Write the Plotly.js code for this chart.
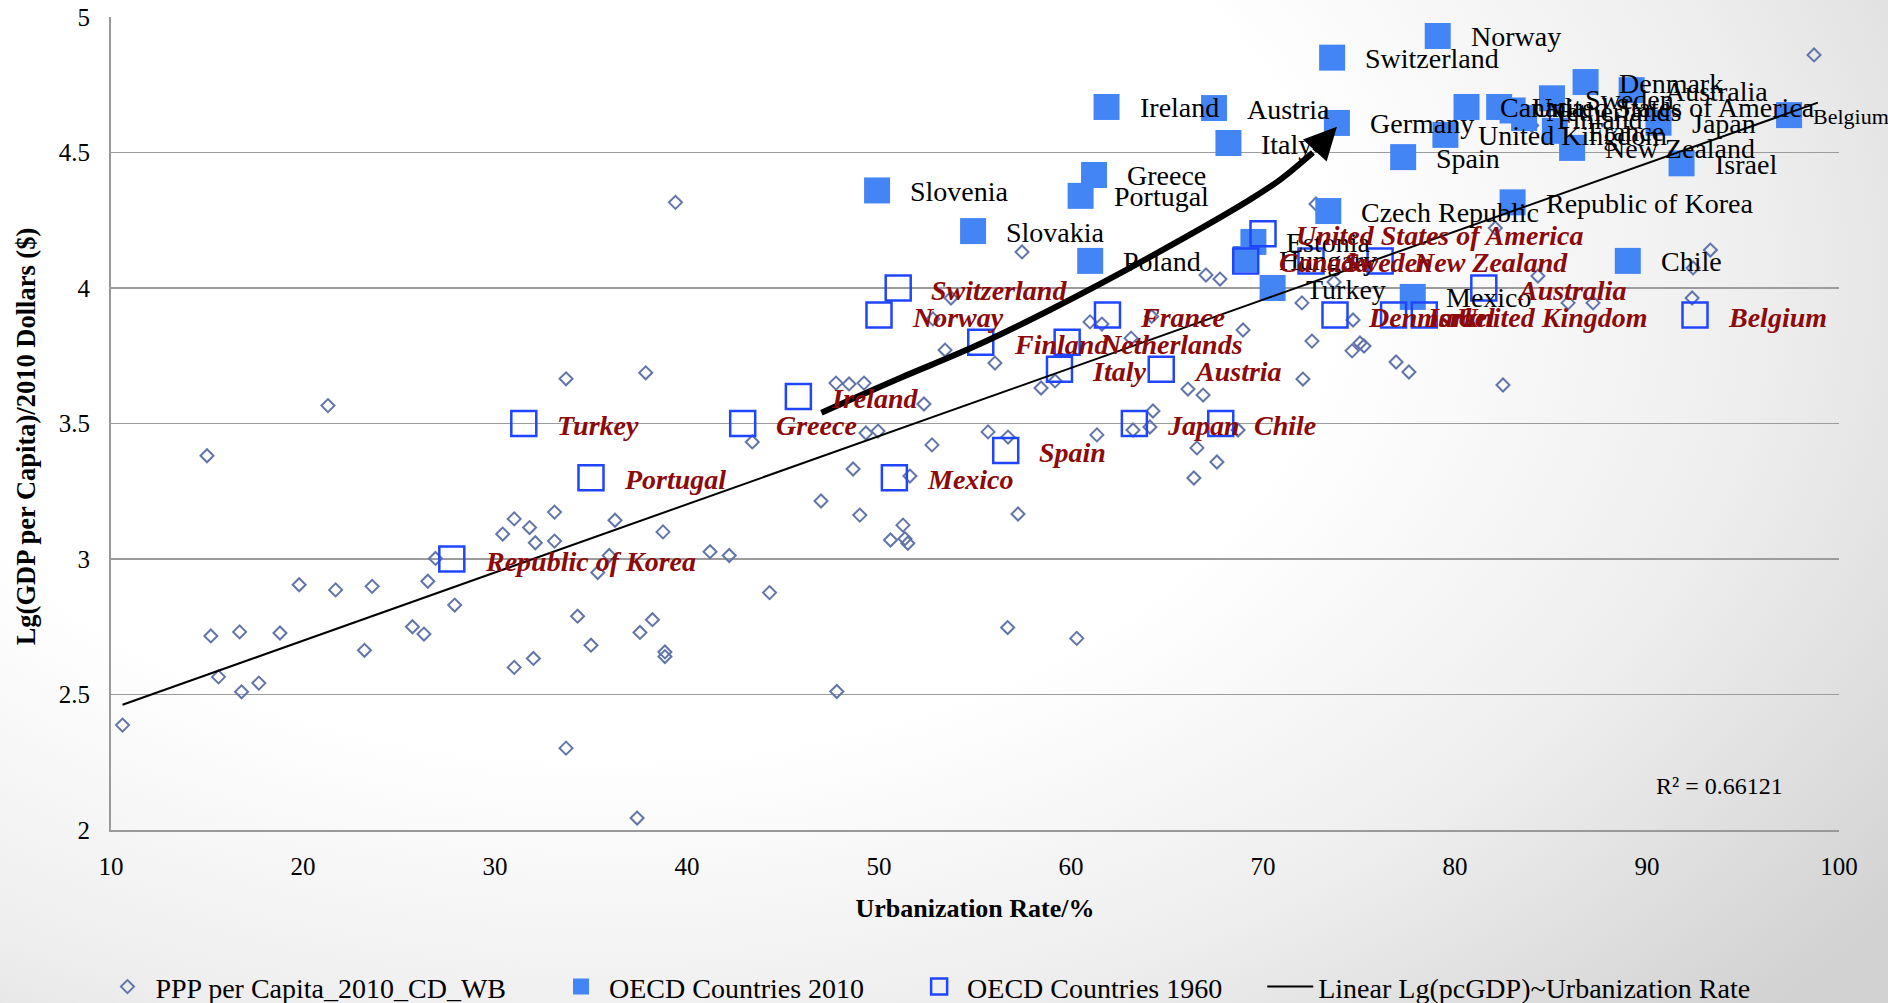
<!DOCTYPE html>
<html>
<head>
<meta charset="utf-8">
<script src="https://cdn.plot.ly/plotly-3.0.1.min.js"></script>
<style>
html,body{margin:0;padding:0;width:1888px;height:1003px;overflow:hidden;
background:radial-gradient(ellipse 85% 105% at 32% 28%, #ffffff 45%, #eeeeee 72%, #d2d2d2 100%);}
#chart{width:1888px;height:1003px;}
</style>
</head>
<body>
<div id="chart"></div>
<script>
// World Bank sample: urbanization rate (%) and lg(GDP per capita, PPP 2010 $)
const wbUrban = [10.6,15.0,15.2,15.6,16.7,16.8,17.7,18.8,19.8,21.3,21.7,23.2,23.6,25.7,26.3,26.5,26.9,27.9,30.4,31.0,31.0,31.8,32.0,32.1,33.1,33.1,33.7,33.7,34.3,35.0,35.35,35.95,36.25,37.4,37.55,37.85,38.2,38.75,38.85,38.85,39.4,41.2,42.2,43.4,44.3,46.98,47.76,47.8,48.44,48.65,49.0,49.22,49.32,49.95,50.6,51.25,51.35,51.5,51.61,52.34,52.76,52.81,53.44,53.75,55.68,56.04,56.7,56.72,57.24,57.45,58.44,59.17,60.3,60.99,61.35,61.61,63.13,63.23,64.11,64.2,64.27,66.09,66.4,66.56,66.88,67.03,67.6,67.76,68.7,68.96,72.03,72.08,72.55,72.76,73.7,74.64,74.69,75.05,75.26,76.93,77.6,82.1,82.5,84.0,84.32,85.89,87.19,92.35,92.4,93.3,98.7];
const wbGdp = [2.387,3.381,2.716,2.565,2.731,2.51,2.542,2.727,2.905,3.566,2.886,2.663,2.899,2.75,2.723,2.918,3.002,2.83,3.092,3.148,2.60,3.116,2.633,3.06,3.173,3.066,3.665,2.302,2.789,2.682,2.95,3.013,3.143,2.044,2.729,3.687,2.776,3.1,2.657,2.64,4.316,3.027,3.013,3.432,2.876,3.214,3.649,2.511,3.646,3.332,3.162,3.649,3.465,3.472,3.07,3.125,3.075,3.058,3.306,3.572,3.421,3.886,3.771,3.963,3.469,3.723,2.747,3.45,3.166,4.133,3.631,3.657,2.707,3.875,3.458,3.867,3.815,3.476,3.487,3.895,3.546,3.627,3.299,3.41,3.605,4.048,3.358,4.033,3.476,3.845,3.945,3.664,3.804,4.31,4.022,3.768,3.882,3.797,3.786,3.727,3.69,4.221,3.642,4.60,4.044,3.945,3.945,3.963,4.074,4.14,4.86];

// OECD countries 2010
const oecd2010Names = ["Norway","Switzerland","Ireland","Austria","Germany","Italy","Spain","Slovenia","Greece","Portugal","Slovakia","Poland","Czech Republic","Estonia","Hungary","Turkey","Mexico","Republic of Korea","Chile","Belgium","Israel","New Zealand","Denmark","Australia","Sweden","Japan","France","United Kingdom","Canada","United States of America","Netherlands","Finland"];
const oecd2010Urban = [79.1,73.6,61.85,67.45,73.85,68.2,77.3,49.9,61.2,60.5,54.9,61.0,73.4,69.5,69.1,70.5,77.8,83.0,89.0,97.4,91.8,86.1,86.8,89.2,85.05,90.6,85.2,79.5,80.6,82.3,83.0,83.6];
const oecd2010Gdp = [4.93,4.85,4.668,4.664,4.609,4.535,4.483,4.36,4.417,4.34,4.21,4.10,4.284,4.17,4.107,4.0,3.967,4.316,4.10,4.638,4.46,4.517,4.76,4.73,4.70,4.61,4.58,4.565,4.668,4.668,4.655,4.627];

// OECD countries 1960
const oecd1960Names = ["Republic of Korea","Turkey","Portugal","Greece","Ireland","Switzerland","Norway","Mexico","Finland","Netherlands","Italy","France","Spain","Austria","Japan","Chile","United States of America","Canada","Sweden","New Zealand","Australia","Denmark","Israel","United Kingdom","Belgium"];
const oecd1960Urban = [27.75,31.5,35.0,42.9,45.8,51.0,50.0,50.8,55.3,59.8,59.4,61.9,56.6,64.7,63.3,67.8,70.0,69.1,72.5,76.1,81.5,73.75,76.8,78.4,92.5];
const oecd1960Gdp = [3.0,3.5,3.3,3.5,3.6,4.0,3.9,3.3,3.8,3.8,3.7,3.9,3.4,3.7,3.5,3.5,4.2,4.1,4.1,4.1,4.0,3.9,3.9,3.9,3.9];

// Linear fit Lg(pcGDP) ~ Urbanization Rate (end points)
const trendX = [10.6, 98.9];
const trendY = [2.462, 4.684];
const rSquaredText = "R² = 0.66121";

// Curved development arrow
const arrowX = [47.0, 51.1, 54.9, 58.9, 64.1, 69.3, 70.9, 72.6];
const arrowY = [3.54, 3.668, 3.782, 3.919, 4.114, 4.325, 4.40, 4.50];
const arrowTip = [73.85, 4.595];

const legendNames = ["PPP per Capita_2010_CD_WB", "OECD Countries 2010", "OECD Countries 1960", "Linear Lg(pcGDP)~Urbanization Rate"];
const legendPad = [6, 6, 5, 0];
const nb = n => "\u00a0".repeat(n);

const serif = "'Liberation Serif', 'Times New Roman', serif";
const blue2010 = "#4485f5";
const blue1960 = "#1f45ff";
const red1960 = "#8c0a0a";

const traces = [
  {x: wbUrban, y: wbGdp, type: "scatter", mode: "markers", name: legendNames[0] + nb(legendPad[0]),
   marker: {symbol: "diamond-open", size: 10, color: "#6275aa", line: {width: 2, color: "#6275aa"}}},
  {x: oecd2010Urban, y: oecd2010Gdp, type: "scatter", mode: "markers", name: legendNames[1] + nb(legendPad[1]),
   marker: {symbol: "square", size: 26, color: blue2010}},
  {x: oecd1960Urban, y: oecd1960Gdp, type: "scatter", mode: "markers", name: legendNames[2] + nb(legendPad[2]),
   marker: {symbol: "square-open", size: 25, color: blue1960, line: {width: 2.5, color: blue1960}}},
  {x: trendX, y: trendY, type: "scatter", mode: "lines", name: legendNames[3] + nb(legendPad[3]),
   line: {color: "#000", width: 2}},
  {x: arrowX, y: arrowY, type: "scatter", mode: "lines", showlegend: false, hoverinfo: "skip",
   line: {color: "#000", width: 6, shape: "spline", smoothing: 1}}
];

const annotations = [];
oecd2010Names.forEach((n, i) => annotations.push({
  x: oecd2010Urban[i], y: oecd2010Gdp[i], xref: "x", yref: "y", text: n, showarrow: false,
  xanchor: "left", yanchor: "middle", xshift: oecd2010Urban[i] > 95 ? 22 : 31, yshift: -1,
  font: {family: serif, size: oecd2010Urban[i] > 95 ? 22 : 28, color: "#000"}
}));
oecd1960Names.forEach((n, i) => annotations.push({
  x: oecd1960Urban[i], y: oecd1960Gdp[i], xref: "x", yref: "y", text: "<b><i>" + n + "</i></b>", showarrow: false,
  xanchor: "left", yanchor: "middle", xshift: 31, yshift: -2,
  font: {family: serif, size: 28, color: red1960}
}));
annotations.push({
  x: arrowTip[0], y: arrowTip[1], xref: "x", yref: "y",
  ax: arrowX[arrowX.length - 1], ay: arrowY[arrowY.length - 1], axref: "x", ayref: "y",
  showarrow: true, arrowhead: 2, arrowsize: 1.3, arrowwidth: 5, arrowcolor: "#000", text: "", standoff: 0
});
annotations.push({
  x: 93.75, y: 2.162, xref: "x", yref: "y", text: rSquaredText, showarrow: false,
  xanchor: "center", yanchor: "middle", font: {family: serif, size: 24, color: "#000"}
});
annotations.push({
  x: -0.049, y: 0.4846, xref: "paper", yref: "paper", textangle: -90, showarrow: false,
  xanchor: "center", yanchor: "middle",
  text: "<b>Lg(GDP per Capita)/2010 Dollars ($)</b>", font: {family: serif, size: 26.5, color: "#000"}
});

const layout = {
  width: 1888, height: 1003,
  margin: {l: 111, r: 49, t: 17, b: 173, autoexpand: false},
  paper_bgcolor: "rgba(0,0,0,0)", plot_bgcolor: "rgba(0,0,0,0)",
  font: {family: serif, color: "#000"},
  showlegend: true,
  legend: {orientation: "h", x: 0.4725, xanchor: "center", y: -0.193, yanchor: "middle", itemwidth: 46,
           font: {family: serif, size: 28, color: "#000"}, bgcolor: "rgba(0,0,0,0)"},
  xaxis: {range: [10, 100], dtick: 10, tick0: 10, showgrid: false, zeroline: false,
          showline: true, linecolor: "#999", linewidth: 2, ticks: "", ticklabelstandoff: 13,
          tickfont: {family: serif, size: 25, color: "#000"},
          title: {text: "<b>Urbanization Rate/%</b>", font: {family: serif, size: 26, color: "#000"}, standoff: 20}},
  yaxis: {range: [2, 5], dtick: 0.5, tick0: 2, showgrid: true, gridcolor: "#9c9c9c", gridwidth: 1.5,
          zeroline: false, showline: true, linecolor: "#999", linewidth: 2, ticks: "", ticklabelstandoff: 14,
          tickfont: {family: serif, size: 25, color: "#000"}},
  annotations: annotations
};

Plotly.newPlot("chart", traces, layout, {displayModeBar: false, staticPlot: true});
</script>
</body>
</html>
